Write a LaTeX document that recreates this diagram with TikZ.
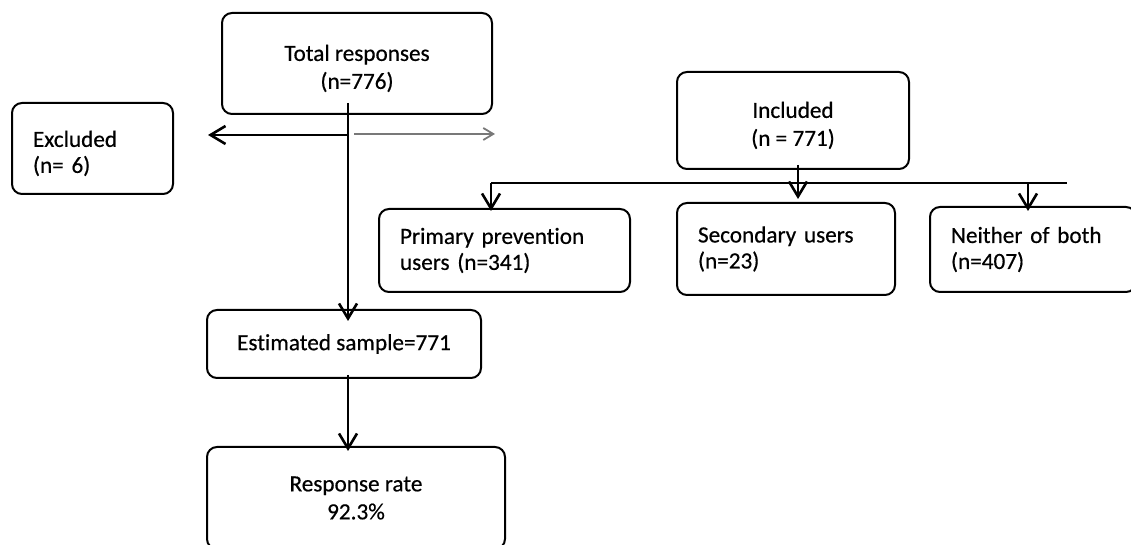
\documentclass[tikz,border=0pt]{standalone}
\usepackage{fontspec}
\setmainfont{Carlito}[FakeBold=0.5, Ligatures=NoCommon]
\usetikzlibrary{arrows.meta}
\tikzset{>={Straight Barb[length=7.5pt,width=9pt,line width=1.3pt]}}
\definecolor{boxLine}{RGB}{0,0,0}
\definecolor{sideArrow}{RGB}{120,120,120}
\newcommand{\topgap}{\rule{0pt}{13pt}}
\tikzset{
	box/.style={draw=boxLine, line width=1pt, rounded corners=5pt, inner sep=0pt, font=\fontsize{11.6pt}{14pt}\selectfont},
	cbox/.style={box, align=center},
	lbox/.style={box, align=left, inner xsep=10.5pt, font=\fontsize{11.6pt}{13pt}\selectfont},
	link/.style={line width=1pt}
}

\begin{document}
\begin{tikzpicture}[x=0.5pt, y=-0.5pt]
		% the page area
		\useasboundingbox (0, 0) rectangle (1131, 545);
		\clip (0, 0) rectangle (1131, 545);

		% left column
		\node[cbox, minimum width=135pt, minimum height=50.5pt] (total) at (357, 63.5) {\topgap Total responses\\(n=776)};
		\node[lbox, text width=59.5pt, minimum height=45.5pt] (excl) at (92.5, 148.5) {\topgap Excluded\\(n= 6)};
		\node[cbox, minimum width=137pt, minimum height=34pt] (est) at (344, 344) {Estimated sample=771};
		\node[cbox, minimum width=149pt, minimum height=51pt] (resp) at (356, 498) {Response rate\\92.3\%};

		% right part
		\node[cbox, minimum width=116pt, minimum height=48.5pt] (incl) at (793, 120.5) {\topgap Included\\(n = 771)};
		\node[lbox, text width=104.5pt, minimum height=41.5pt] (prim) at (504.5, 250.5) {Primary prevention\\users (n=341)};
		\node[lbox, text width=88pt, minimum height=46pt] (sec) at (786, 249) {Secondary users\\(n=23)};
		\node[lbox, text width=82pt, minimum height=42.5pt] (neith) at (1033, 249.5) {Neither of both\\(n=407)};

		% connector points
		\coordinate (stemTop) at (348, 103);
		\coordinate (split) at (348, 135);
		\coordinate (exclTip) at (208, 135);
		\coordinate (grayStart) at (354, 134);
		\coordinate (grayTip) at (495, 134);
		\coordinate (estStem) at (348, 375);
		\coordinate (inclStem) at (798, 165);
		\coordinate (branchL) at (491, 183);
		\coordinate (branchR) at (1067, 183);
		\coordinate (neithDrop) at (1028, 183);

		% main flow
		\draw[link, ->, shorten >=-6pt] (stemTop) -- (stemTop |- est.north);
		\draw[link, ->] (split) -- (exclTip);
		\draw[sideArrow, line width=0.9pt, -{Straight Barb[length=5pt,width=6pt]}] (grayStart) -- (grayTip);
		\draw[link, ->, shorten >=-2.5pt] (estStem) -- (estStem |- resp.north);

		% included split
		\draw[link, ->, shorten >=1.5pt] (inclStem) -- (inclStem |- sec.north);
		\draw[link] (branchL) -- (branchR);
		\draw[link, ->, shorten >=-1.5pt] (branchL) -- (branchL |- prim.north);
		\draw[link, ->, shorten >=-2.5pt] (neithDrop) -- (neithDrop |- neith.north);
	\end{tikzpicture}
\end{document}
